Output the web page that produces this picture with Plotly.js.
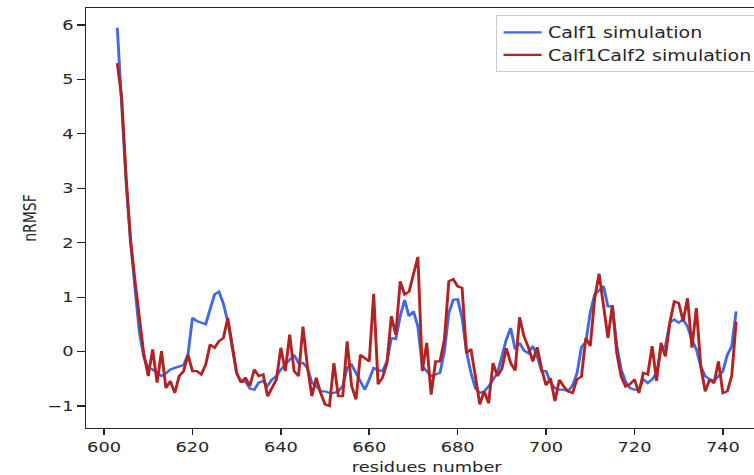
<!DOCTYPE html>
<html>
<head>
<meta charset="utf-8">
<script src="https://cdn.plot.ly/plotly-3.0.1.min.js"></script>
<style>
  html, body { margin: 0; padding: 0; background: #ffffff; }
  #wrap { width: 754px; height: 475px; overflow: hidden; position: relative; }
  #plot { width: 624px; height: 475px; transform: scaleX(1.27); transform-origin: 0 0; }
</style>
</head>
<body>
<div id="wrap"><div id="plot"></div></div>
<script>
const residues = [
  603,604,605,606,607,608,609,610,611,612,
  613,614,615,616,617,618,619,620,621,622,
  623,624,625,626,627,628,629,630,631,632,
  633,634,635,636,637,638,639,640,641,642,
  643,644,645,646,647,648,649,650,651,652,
  653,654,655,656,657,658,659,660,661,662,
  663,664,665,666,667,668,669,670,671,672,
  673,674,675,676,677,678,679,680,681,682,
  683,684,685,686,687,688,689,690,691,692,
  693,694,695,696,697,698,699,700,701,702,
  703,704,705,706,707,708,709,710,711,712,
  713,714,715,716,717,718,719,720,721,722,
  723,724,725,726,727,728,729,730,731,732,
  733,734,735,736,737,738,739,740,741,742,
  743
];

const calf1 = [
  5.95, 4.50, 3.10, 2.00, 1.15, 0.35, -0.10, -0.30, -0.33, -0.40,
  -0.45, -0.40, -0.33, -0.30, -0.27, -0.25, -0.05, 0.62, 0.56, 0.53,
  0.50, 0.78, 1.05, 1.10, 0.88, 0.55, 0.05, -0.40, -0.55, -0.55,
  -0.68, -0.70, -0.57, -0.54, -0.63, -0.51, -0.45, -0.33, -0.24, -0.15,
  -0.06, -0.21, -0.21, -0.30, -0.57, -0.63, -0.73, -0.73, -0.76, -0.76,
  -0.73, -0.63, -0.30, -0.24, -0.39, -0.57, -0.70, -0.51, -0.30, -0.34,
  -0.36, -0.18, 0.25, 0.23, 0.65, 0.95, 0.65, 0.74, 0.46, -0.27,
  -0.36, -0.45, -0.42, -0.39, 0.00, 0.71, 0.95, 0.96, 0.62, 0.00,
  -0.39, -0.67, -0.76, -0.73, -0.64, -0.51, -0.39, -0.09, 0.22, 0.43,
  0.04, 0.16, 0.02, -0.03, 0.10, -0.09, -0.36, -0.36, -0.57, -0.67,
  -0.70, -0.70, -0.73, -0.62, -0.40, 0.08, 0.18, 0.72, 1.05, 1.12,
  1.20, 0.83, 0.83, 0.12, -0.33, -0.55, -0.67, -0.70, -0.70, -0.51,
  -0.58, -0.51, -0.40, 0.04, 0.10, 0.53, 0.59, 0.53, 0.59, 0.46,
  0.22, 0.04, -0.27, -0.45, -0.51, -0.54, -0.45, -0.36, -0.06, 0.10,
  0.74
];

const calf1calf2 = [
  5.30, 4.65, 3.20, 2.05, 1.30, 0.55, -0.05, -0.45, 0.04, -0.57,
  0.01, -0.67, -0.54, -0.76, -0.45, -0.36, -0.06, -0.36, -0.36, -0.42,
  -0.24, 0.13, 0.07, 0.19, 0.25, 0.62, 0.16, -0.39, -0.57, -0.48,
  -0.63, -0.33, -0.45, -0.42, -0.82, -0.67, -0.51, 0.07, -0.36, 0.31,
  -0.36, -0.45, 0.46, -0.27, -0.82, -0.48, -0.76, -0.97, -1.00, -0.21,
  -0.82, -0.82, 0.19, -0.63, -0.88, -0.06, -0.12, -0.18, 1.06, -0.60,
  -0.48, -0.21, 0.65, 0.31, 1.29, 1.05, 1.10, 1.41, 1.74, -0.36,
  0.16, -0.79, -0.18, -0.18, 0.22, 1.29, 1.33, 1.20, 1.17, -0.03,
  0.05, -0.45, -0.97, -0.73, -0.95, -0.21, -0.45, -0.32, 0.06, -0.21,
  -0.35, 0.63, 0.28, 0.08, -0.18, 0.08, -0.32, -0.62, -0.49, -0.91,
  -0.52, -0.64, -0.73, -0.76, -0.51, -0.46, 0.25, 0.10, 0.98, 1.43,
  0.83, 0.25, 0.85, -0.03, -0.46, -0.64, -0.60, -0.51, -0.76, -0.39,
  -0.42, 0.10, -0.54, 0.16, -0.09, 0.53, 0.92, 0.89, 0.56, 0.98,
  0.07, 0.80, -0.27, -0.73, -0.51, -0.58, -0.18, -0.76, -0.73, -0.45,
  0.55
];

const seriesNames = ["Calf1 simulation", "Calf1Calf2 simulation"];
const xTicks = [600, 620, 640, 660, 680, 700, 720, 740];
const yTicks = [-1, 0, 1, 2, 3, 4, 5, 6];
const yTickText = ["\u22121", "0", "1", "2", "3", "4", "5", "6"];

const font = "DejaVu Sans, Verdana, sans-serif";
const ink = "#262626";

const traces = [
  { type: "scatter", mode: "lines", name: seriesNames[0], x: residues, y: calf1,
    line: { color: "#4169E1", width: 2.3 } },
  { type: "scatter", mode: "lines", name: seriesNames[1], x: residues, y: calf1calf2,
    line: { color: "#B22222", width: 2.3 } }
];

const layout = {
  width: 624, height: 475,
  margin: { l: 67.95, r: 20, t: 8, b: 47, pad: 0 },
  paper_bgcolor: "#ffffff", plot_bgcolor: "#ffffff",
  font: { family: font, size: 14, color: ink },
  showlegend: true,
  legend: {
    x: 0.9897, xanchor: "right", y: 0.983, yanchor: "top",
    bgcolor: "rgba(255,255,255,0.85)", bordercolor: "#cccccc", borderwidth: 1,
    font: { family: font, size: 15, color: ink }
  },
  xaxis: {
    range: [596, 750], tickmode: "array", tickvals: xTicks,
    ticks: "outside", ticklen: 6, tickwidth: 1.2, tickcolor: ink,
    showline: true, linecolor: ink, linewidth: 1.2, mirror: true,
    showgrid: false, zeroline: false,
    tickfont: { family: font, size: 14, color: ink },
    title: { text: "residues number", font: { family: font, size: 14, color: ink }, standoff: 8 }
  },
  yaxis: {
    range: [-1.404, 6.312], tickmode: "array", tickvals: yTicks, ticktext: yTickText,
    ticks: "outside", ticklen: 6, tickwidth: 1.2, tickcolor: ink,
    showline: true, linecolor: ink, linewidth: 1.2, mirror: true,
    showgrid: false, zeroline: false,
    tickfont: { family: font, size: 14, color: ink },
    title: { text: "nRMSF", font: { family: font, size: 14, color: ink }, standoff: 5 }
  }
};

Plotly.newPlot("plot", traces, layout, { staticPlot: true, displayModeBar: false });
</script>
</body>
</html>
